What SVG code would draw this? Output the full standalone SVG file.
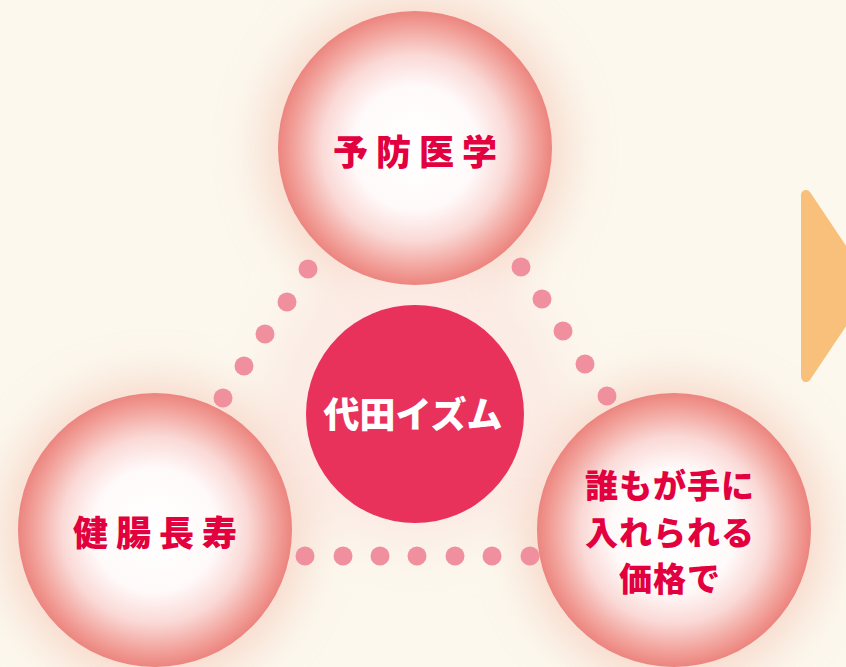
<svg xmlns="http://www.w3.org/2000/svg" width="846" height="667" viewBox="0 0 846 667">
<defs>
<radialGradient id="ball" cx="50%" cy="50%" r="50%">
<stop offset="0" stop-color="#ffffff"/>
<stop offset="0.45" stop-color="#fffafa"/>
<stop offset="0.68" stop-color="#fad9d6"/>
<stop offset="0.88" stop-color="#f2a39c"/>
<stop offset="1" stop-color="#ec847e"/>
</radialGradient>
<filter id="haze" x="-50%" y="-50%" width="200%" height="200%">
<feGaussianBlur stdDeviation="24"/>
</filter>
<style>
.dot{fill:#f0909e}
.lbl{font-family:"Noto Sans CJK JP","Noto Sans CJK SC",sans-serif;font-weight:900;font-size:35px;fill:#e2003f;text-anchor:middle;dominant-baseline:central}
.multi{font-size:33px}
.core{font-family:"Noto Sans CJK JP","Noto Sans CJK SC",sans-serif;font-weight:900;font-size:36px;fill:#ffffff;text-anchor:middle;dominant-baseline:central}
</style>
</defs>
<rect width="846" height="667" fill="#fcf8ee"/>
<g filter="url(#haze)" opacity="0.8">
<circle cx="415" cy="150" r="152" fill="#f6cfc0"/>
<circle cx="155" cy="532" r="152" fill="#f6cfc0"/>
<circle cx="674" cy="532" r="152" fill="#f6cfc0"/>
<circle cx="415" cy="400" r="150" fill="#fbe8e2"/>
</g>
<g id="arrow">
<polygon points="806,195 867,286 806,377" fill="#f8c07a" stroke="#f8c07a" stroke-width="10" stroke-linejoin="round"/>
</g>
<g id="connectors">
<circle class="dot" cx="308" cy="269" r="9.5"/>
<circle class="dot" cx="287" cy="302" r="9.5"/>
<circle class="dot" cx="265" cy="334" r="9.5"/>
<circle class="dot" cx="244" cy="366" r="9.5"/>
<circle class="dot" cx="223" cy="398" r="9.5"/>
<circle class="dot" cx="521" cy="267" r="9.5"/>
<circle class="dot" cx="542" cy="299" r="9.5"/>
<circle class="dot" cx="563" cy="331" r="9.5"/>
<circle class="dot" cx="585" cy="364" r="9.5"/>
<circle class="dot" cx="607" cy="396" r="9.5"/>
<circle class="dot" cx="305" cy="556" r="9.5"/>
<circle class="dot" cx="343" cy="556" r="9.5"/>
<circle class="dot" cx="380" cy="556" r="9.5"/>
<circle class="dot" cx="417" cy="556" r="9.5"/>
<circle class="dot" cx="455" cy="556" r="9.5"/>
<circle class="dot" cx="492" cy="556" r="9.5"/>
<circle class="dot" cx="530" cy="556" r="9.5"/>
</g>
<g id="node-yobou">
<circle cx="415" cy="148" r="137" fill="url(#ball)"/>
<text class="lbl" x="419" y="149" letter-spacing="8">予防医学</text>
</g>
<g id="node-kencho">
<circle cx="155" cy="530" r="137" fill="url(#ball)"/>
<text class="lbl" x="159" y="530" letter-spacing="8">健腸長寿</text>
</g>
<g id="node-kakaku">
<circle cx="674" cy="530" r="137" fill="url(#ball)"/>
<text class="lbl multi" x="670" y="484" letter-spacing="1">誰もが手に</text>
<text class="lbl multi" x="670" y="531" letter-spacing="1">入れられる</text>
<text class="lbl multi" x="670" y="577" letter-spacing="1">価格で</text>
</g>
<g id="node-center">
<circle cx="415" cy="414" r="109" fill="#e8325c"/>
<text class="core" x="413" y="412">代田イズム</text>
</g>
</svg>
